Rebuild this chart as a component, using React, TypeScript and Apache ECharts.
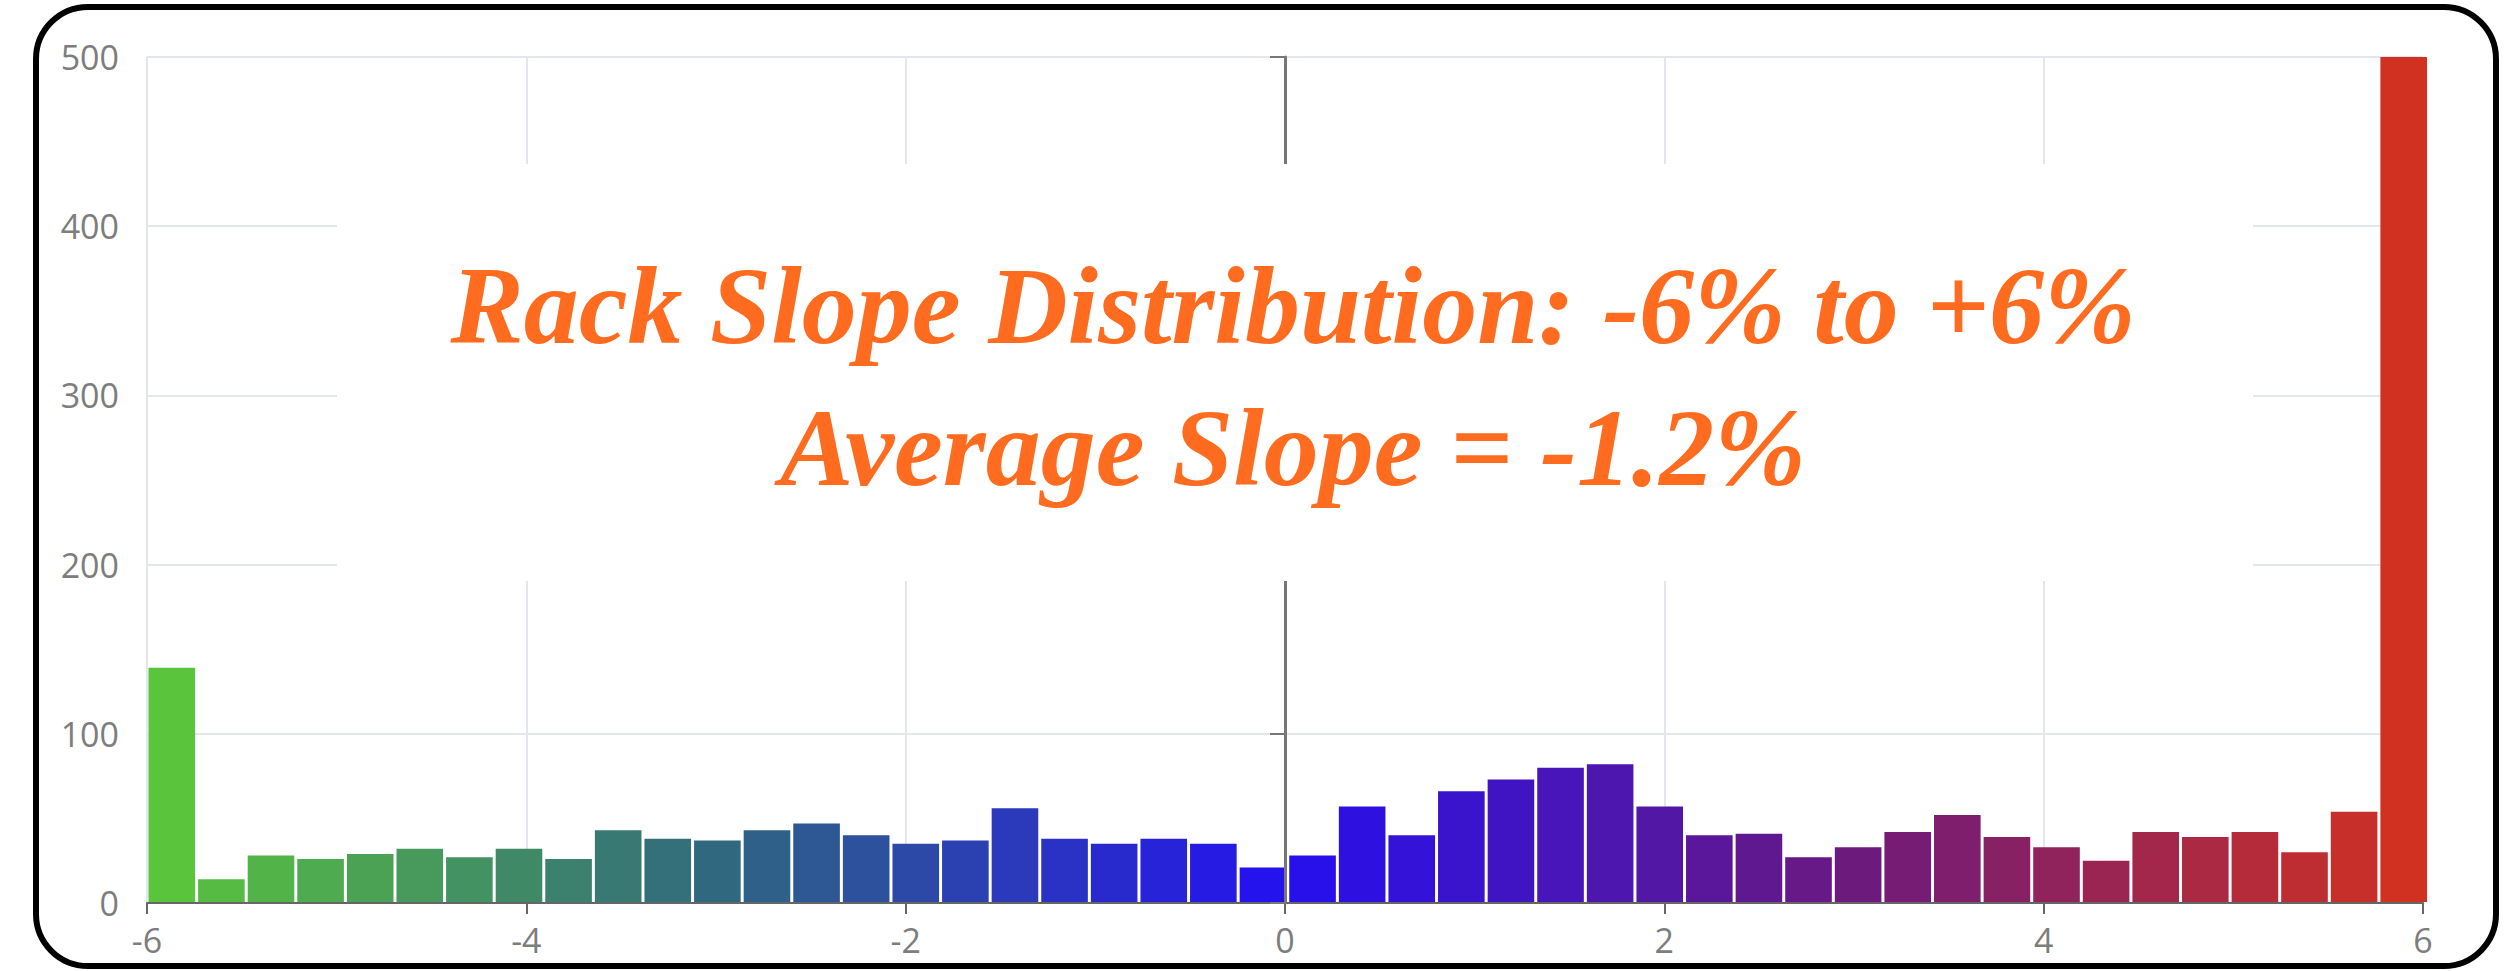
import React, { useEffect, useRef } from "react";
import * as echarts from "echarts";

// Histogram bins: start of first bin and bin width (in % slope)
const BIN_START = -6;
const BIN_WIDTH = 0.2615;

// Counts per bin (46 bins, left to right)
const COUNTS = [
  139, 14, 28, 26, 29, 32, 27, 32, 26, 43,
  38, 37, 43, 47, 40, 35, 37, 56, 38, 35,
  38, 35, 21, 28, 57, 40, 66, 73, 80, 82,
  57, 40, 41, 27, 33, 42, 52, 39, 33, 25,
  42, 39, 42, 30, 54, 500,
];

const TITLE_LINE_1 = "Rack Slope Distribution: -6% to +6%";
const TITLE_LINE_2 = "Average Slope = -1.2%";

// Colour stops along the slope axis (style)
const COLOR_STOPS: [number, [number, number, number]][] = [
  [-6, [92, 200, 58]],
  [-3, [48, 104, 127]],
  [0, [36, 16, 240]],
  [3, [108, 26, 126]],
  [6, [212, 50, 30]],
];

function colorAt(x: number): string {
  let i = 0;
  while (i < COLOR_STOPS.length - 2 && x > COLOR_STOPS[i + 1][0]) i++;
  const [x0, c0] = COLOR_STOPS[i];
  const [x1, c1] = COLOR_STOPS[i + 1];
  let t = (x - x0) / (x1 - x0);
  t = Math.max(0, Math.min(1, t));
  const c = c0.map((v, k) => Math.round(v + (c1[k] - v) * t));
  return `rgb(${c[0]},${c[1]},${c[2]})`;
}

export default function App() {
  const ref = useRef<HTMLDivElement>(null);

  useEffect(() => {
    if (!ref.current) return;
    const chart = echarts.init(ref.current, undefined, { renderer: "svg" });

    const data = COUNTS.map((c, i) => [
      BIN_START + i * BIN_WIDTH,
      BIN_START + (i + 1) * BIN_WIDTH,
      c,
    ]);

    const labelStyle = {
      color: "#7d7d7d",
      fontFamily: "Open Sans",
      fontSize: 34,
    };

    chart.setOption({
      animation: false,
      backgroundColor: "#ffffff",
      grid: { left: 147, right: 97, top: 57, bottom: 68, containLabel: false },
      xAxis: {
        type: "value",
        min: -6,
        max: 6,
        interval: 2,
        axisLine: { show: true, onZero: false, lineStyle: { color: "#666", width: 2 } },
        axisTick: { show: true, length: 11, lineStyle: { color: "#666", width: 2 } },
        axisLabel: { ...labelStyle, margin: 20 },
        splitLine: { show: true, lineStyle: { color: "#e4e6ee", width: 2 } },
      },
      yAxis: [
        {
          type: "value",
          min: 0,
          max: 500,
          interval: 100,
          axisLine: { show: false, onZero: false },
          axisTick: { show: false },
          axisLabel: { ...labelStyle, margin: 28, padding: [0, 0, 8, 0] },
          splitLine: { show: true, lineStyle: { color: "#e4e6ee", width: 2 } },
        },
        {
          type: "value",
          min: 0,
          max: 500,
          interval: 100,
          position: "left",
          z: 5,
          axisLine: { show: true, onZero: true, lineStyle: { color: "#777", width: 3 } },
          axisTick: { show: true, length: 15, lineStyle: { color: "#777", width: 2 } },
          axisLabel: { show: false },
          splitLine: { show: false },
        },
      ],
      series: [
        {
          type: "custom",
          xAxisIndex: 0,
          yAxisIndex: 0,
          encode: { x: [0, 1], y: 2 },
          data,
          renderItem: (params: any, api: any) => {
            const x0 = api.value(0);
            const x1 = api.value(1);
            const v = api.value(2);
            const p0 = api.coord([x0, 0]);
            const p1 = api.coord([x1, v]);
            return {
              type: "rect",
              shape: {
                x: p0[0] + 1.5,
                y: p1[1],
                width: p1[0] - p0[0] - 3,
                height: p0[1] - p1[1] - 1,
              },
              style: { fill: colorAt((x0 + x1) / 2) },
            };
          },
        },
      ],
      graphic: [
        {
          type: "rect",
          z: 100,
          shape: { x: 337, y: 164, width: 1916, height: 417 },
          style: { fill: "#ffffff" },
        },
        {
          type: "text",
          z: 101,
          x: 1293,
          y: 306,
          style: {
            text: TITLE_LINE_1,
            fill: "#ff6b1f",
            font: 'italic bold 110px "Liberation Serif"',
            textAlign: "center",
            textVerticalAlign: "middle",
          },
        },
        {
          type: "text",
          z: 101,
          x: 1293,
          y: 448,
          style: {
            text: TITLE_LINE_2,
            fill: "#ff6b1f",
            font: 'italic bold 110px "Liberation Serif"',
            textAlign: "center",
            textVerticalAlign: "middle",
          },
        },
        {
          type: "rect",
          z: 200,
          shape: { x: 36, y: 7, width: 2460, height: 959, r: 52 },
          style: { fill: "transparent", stroke: "#000000", lineWidth: 6 },
        },
      ],
    });

    return () => chart.dispose();
  }, []);

  return (
    <div
      ref={ref}
      style={{ position: "absolute", left: 0, top: 0, width: 2520, height: 971 }}
    />
  );
}
